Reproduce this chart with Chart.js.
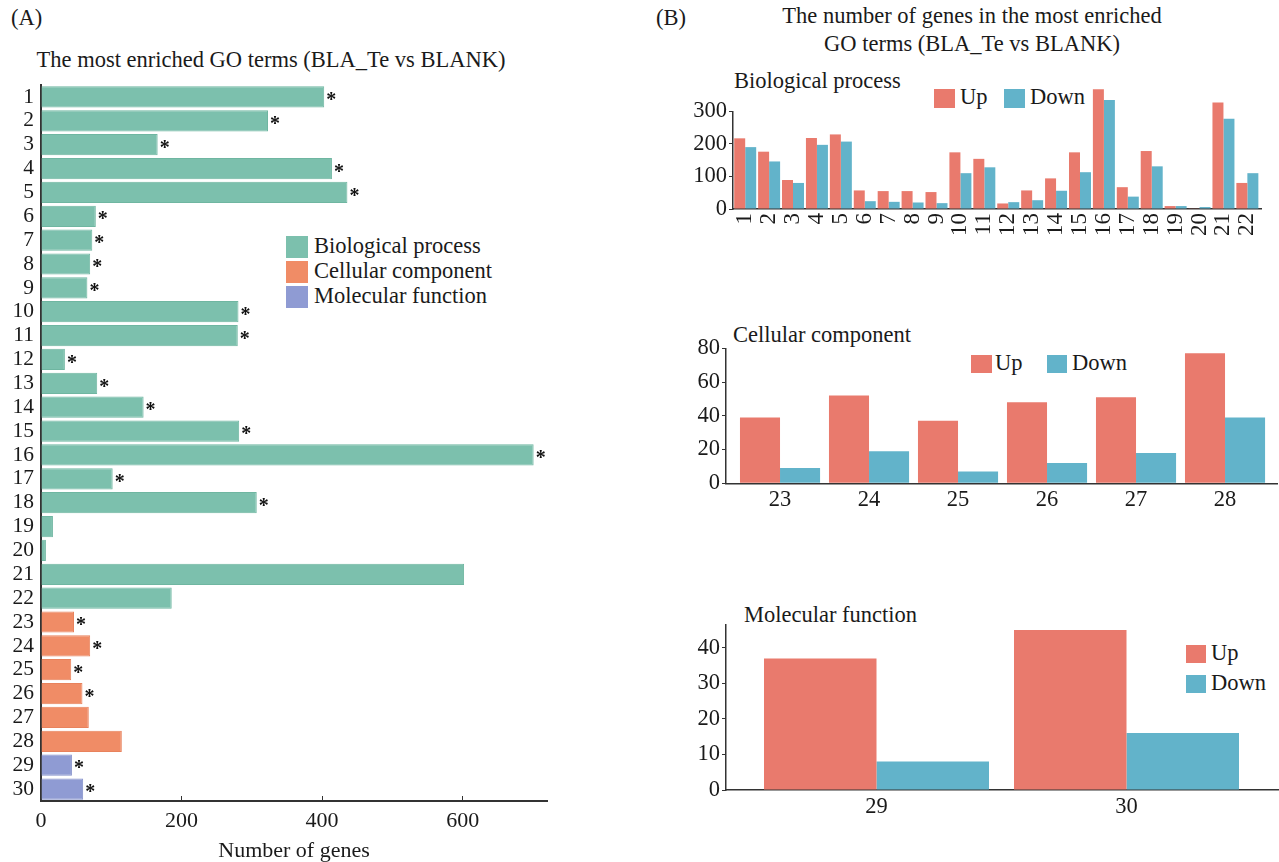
<!DOCTYPE html>
<html>
<head>
<meta charset="utf-8">
<script src="https://cdn.jsdelivr.net/npm/chart.js@4.4.1/dist/chart.umd.min.js"></script>
<style>
  html, body { margin: 0; padding: 0; background: #fff; overflow: hidden; }
  body { width: 1279px; height: 862px; position: relative; font-family: "Liberation Serif", "Times New Roman", serif; color: #1a1a1a; }
  canvas, .t, .box { position: absolute; }
  .t { line-height: 1; white-space: nowrap; font-size: 22.5px; }
  .c { transform: translateX(-50%); }
</style>
</head>
<body>
<!-- panel labels and titles -->
<div class="t" style="left:11px;top:7px">(A)</div>
<div class="t c" style="left:271px;top:49px">The most enriched GO terms (BLA_Te vs BLANK)</div>
<div class="t" style="left:656px;top:7px">(B)</div>
<div class="t c" style="left:972px;top:5px">The number of genes in the most enriched</div>
<div class="t c" style="left:972px;top:33px">GO terms (BLA_Te vs BLANK)</div>
<div class="t" style="left:734px;top:70px">Biological process</div>
<div class="t" style="left:733px;top:324px">Cellular component</div>
<div class="t" style="left:744px;top:604px">Molecular function</div>

<div id="legends"></div>

<canvas id="goChart" width="560" height="807" style="left:0;top:55px"></canvas>
<canvas id="bpChart" width="619" height="200" style="left:660px;top:60px"></canvas>
<canvas id="ccChart" width="639" height="200" style="left:640px;top:320px"></canvas>
<canvas id="mfChart" width="639" height="240" style="left:640px;top:590px"></canvas>

<script>
// ---- data ----
const goTerms = ['1', '2', '3', '4', '5', '6', '7', '8', '9', '10', '11', '12', '13', '14', '15',
  '16', '17', '18', '19', '20', '21', '22', '23', '24', '25', '26', '27', '28', '29', '30'];
const geneCounts = [403, 323, 166, 414, 436, 78, 73, 70, 66, 281, 280, 34, 80, 146, 282,
  701, 102, 307, 17, 7, 602, 186, 47, 70, 43, 59, 68, 115, 44, 60];
// 0 = Biological process, 1 = Cellular component, 2 = Molecular function
const termGroup = [0, 0, 0, 0, 0, 0, 0, 0, 0, 0, 0, 0, 0, 0, 0,
  0, 0, 0, 0, 0, 0, 0, 1, 1, 1, 1, 1, 1, 2, 2];
const significant = [1, 1, 1, 1, 1, 1, 1, 1, 1, 1, 1, 1, 1, 1, 1,
  1, 1, 1, 0, 0, 0, 0, 1, 1, 1, 1, 0, 0, 1, 1];
const groupNames = ['Biological process', 'Cellular component', 'Molecular function'];
const geneTicks = [0, 200, 400, 600];

const bpTerms = ['1', '2', '3', '4', '5', '6', '7', '8', '9', '10', '11',
  '12', '13', '14', '15', '16', '17', '18', '19', '20', '21', '22'];
const bpUp = [217, 176, 89, 218, 229, 57, 55, 55, 52, 174, 154, 17, 57, 94, 174, 368, 67, 178, 9, 2, 327, 80];
const bpDown = [190, 146, 80, 197, 207, 24, 22, 20, 18, 110, 128, 21, 27, 56, 113, 335, 38, 131, 9, 6, 277, 110];

const ccTerms = ['23', '24', '25', '26', '27', '28'];
const ccUp = [39, 52, 37, 48, 51, 77];
const ccDown = [9, 19, 7, 12, 18, 39];

const mfTerms = ['29', '30'];
const mfUp = [37, 45];
const mfDown = [8, 16];

const seriesNames = ['Up', 'Down'];

// ---- colours ----
const groupColors = ['#7cc0ad', '#f08c66', '#8f9bd3'];
const groupEdges = ['#6fb6a1', '#e8825c', '#8490ca'];
const upColor = '#e97a6d';
const downColor = '#62b3ca';
const axisColor = '#333';

Chart.defaults.font.family = '"Liberation Serif", "Times New Roman", serif';
Chart.defaults.color = '#1a1a1a';
Chart.defaults.animation = false;
Chart.defaults.plugins.legend.display = false;
Chart.defaults.plugins.tooltip.enabled = false;

// ---- html legends ----
const legendBox = document.getElementById('legends');
function addKey(x, y, w, h, color, label, textX) {
  const b = document.createElement('div');
  b.className = 'box';
  b.style.cssText = `left:${x}px;top:${y}px;width:${w}px;height:${h}px;background:${color}`;
  legendBox.appendChild(b);
  const t = document.createElement('div');
  t.className = 't';
  t.textContent = label;
  t.style.left = textX + 'px';
  t.style.top = (y + h / 2 - 12.5) + 'px';
  legendBox.appendChild(t);
}
groupNames.forEach((name, i) => addKey(286, 236 + i * 25, 22, 22, groupColors[i], name, 314));
addKey(934, 89, 21, 19, upColor, seriesNames[0], 960);
addKey(1004, 89, 21, 19, downColor, seriesNames[1], 1030);
addKey(971, 355, 21, 18, upColor, seriesNames[0], 995);
addKey(1047, 355, 20, 18, downColor, seriesNames[1], 1072);
addKey(1186, 645, 20, 18, upColor, seriesNames[0], 1211);
addKey(1186, 675, 20, 18, downColor, seriesNames[1], 1211);

// ---- asterisks next to significant bars ----
const starPlugin = {
  id: 'stars',
  afterDatasetsDraw(chart) {
    const ctx = chart.ctx;
    const meta = chart.getDatasetMeta(0);
    ctx.save();
    ctx.font = 'bold 20px "Liberation Serif"';
    ctx.fillStyle = '#111';
    ctx.textAlign = 'left';
    ctx.textBaseline = 'middle';
    meta.data.forEach((bar, i) => {
      if (significant[i]) ctx.fillText('*', bar.x + 2, bar.y + 4);
    });
    ctx.restore();
  }
};

// ---- (A) horizontal bars ----
new Chart(document.getElementById('goChart'), {
  type: 'bar',
  data: {
    labels: goTerms,
    datasets: [{
      data: geneCounts,
      backgroundColor: termGroup.map((g) => groupColors[g]),
      borderColor: termGroup.map((g) => groupEdges[g]),
      borderWidth: 1,
      barPercentage: 0.89,
      categoryPercentage: 1
    }]
  },
  options: {
    indexAxis: 'y',
    responsive: false,
    layout: { padding: { left: 0, right: 13, top: 30, bottom: 0 } },
    scales: {
      y: {
        grid: { display: false, drawTicks: false },
        border: { color: axisColor, width: 2 },
        ticks: { autoSkip: false, padding: 7, font: { size: 21.5 } },
        afterFit: (axis) => { axis.width = 41; }
      },
      x: {
        min: 0,
        max: 720,
        grid: { drawOnChartArea: false, tickLength: -5, color: axisColor },
        border: { color: axisColor, width: 2 },
        ticks: { includeBounds: false, padding: 12, font: { size: 22 } },
        afterBuildTicks: (axis) => { axis.ticks = geneTicks.map((v) => ({ value: v })); },
        title: { display: true, text: 'Number of genes', font: { size: 22, lineHeight: 1 }, padding: 0 },
        afterFit: (axis) => { axis.height = 61; }
      }
    }
  },
  plugins: [starPlugin]
});

// ---- (B) grouped up/down bars ----
function upDownChart(id, terms, up, down, opt) {
  const toPoints = (arr) => arr.map((v, i) => ({ x: i, y: v }));
  new Chart(document.getElementById(id), {
    type: 'bar',
    data: {
      datasets: [
        { label: seriesNames[0], data: toPoints(up), backgroundColor: upColor, clip: false },
        { label: seriesNames[1], data: toPoints(down), backgroundColor: downColor, clip: false }
      ]
    },
    options: {
      responsive: false,
      categoryPercentage: opt.catPct,
      barPercentage: 1,
      layout: { padding: { left: 0, right: opt.padRight, top: opt.padTop, bottom: 0 } },
      scales: {
        x: {
          type: 'linear',
          offset: false,
          bounds: 'data',
          min: opt.xMin,
          max: opt.xMax,
          grid: { display: false, drawTicks: false },
          border: { color: axisColor, width: 1.5 },
          ticks: {
            autoSkip: false,
            includeBounds: false,
            padding: opt.labelPad,
            minRotation: opt.rotation,
            maxRotation: opt.rotation,
            font: { size: opt.xFont },
            callback: (v) => terms[v]
          },
          afterBuildTicks: (axis) => { axis.ticks = terms.map((_, i) => ({ value: i })); },
          afterFit: (axis) => { axis.height = opt.xHeight; }
        },
        y: {
          min: 0,
          max: opt.yMax,
          grid: { drawOnChartArea: false, tickLength: 4, color: axisColor },
          border: { color: axisColor, width: 1.5 },
          ticks: { stepSize: opt.yStep, includeBounds: false, padding: 2, font: { size: 22.5 } },
          afterFit: (axis) => { axis.width = opt.yWidth; }
        }
      }
    }
  });
}

upDownChart('bpChart', bpTerms, bpUp, bpDown, {
  catPct: 0.92, padRight: 1.3, padTop: 51.3, xMin: -0.51, xMax: 21.61,
  labelPad: 4, rotation: 90, xFont: 23, xHeight: 51, yMax: 300, yStep: 100, yWidth: 73
});
upDownChart('ccChart', ccTerms, ccUp, ccDown, {
  catPct: 0.9, padRight: 2, padTop: 28.3, xMin: -0.607, xMax: 5.584,
  labelPad: 3.5, rotation: 0, xFont: 22.5, xHeight: 36.7, yMax: 80, yStep: 20, yWidth: 86
});
upDownChart('mfChart', mfTerms, mfUp, mfDown, {
  catPct: 0.9, padRight: 1, padTop: 35, xMin: -0.602, xMax: 1.606,
  labelPad: 3.5, rotation: 0, xFont: 22.5, xHeight: 40, yMax: 46.4, yStep: 10, yWidth: 86
});
</script>
</body>
</html>
